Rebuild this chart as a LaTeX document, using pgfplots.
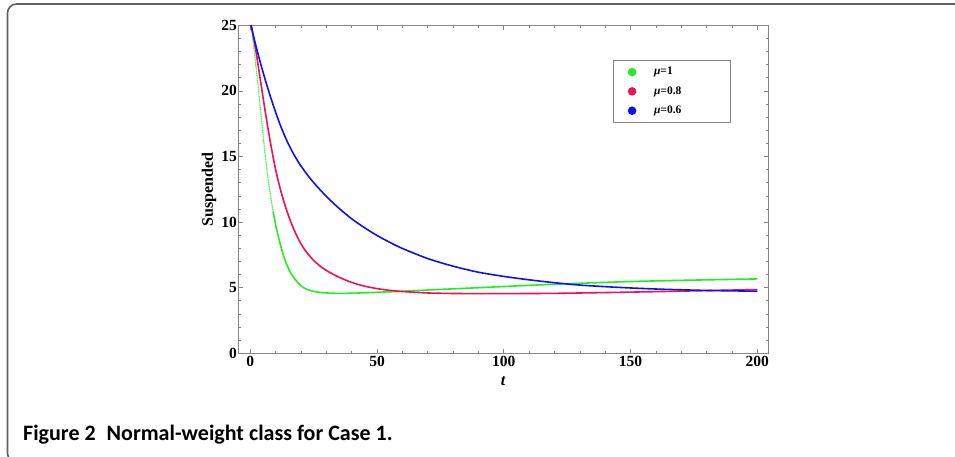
\documentclass[border=0pt]{standalone}
\usepackage{fontspec}
\setmainfont{Liberation Serif}
\newfontfamily\capfont{Carlito}
\usepackage{pgfplots}
\pgfplotsset{compat=1.18}
\definecolor{muA}{HTML}{22EE22}
\definecolor{muB}{HTML}{EE1155}
\definecolor{muC}{HTML}{1111EE}
\definecolor{framegray}{HTML}{858585}

\begin{document}
\begin{tikzpicture}[x=1pt,y=1pt]
\path[use as bounding box] (0,0) rectangle (955,456);
% rounded frame round the figure, cut at the right and bottom edge
\draw[black!62, line width=1.6pt, rounded corners=9pt] (962,452) -- (7.5,452) -- (7.5,-6) -- (30,-6);

\begin{axis}[
    at={(238.5pt,102.7pt)}, anchor=south west,
    scale only axis,
    width=529.5pt, height=328pt,
    xmin=-4.65, xmax=204.2,
    ymin=0, ymax=25,
    xtick={0,50,100,150,200},
    ytick={0,5,10,15,20,25},
    minor x tick num=4,
    minor y tick num=4,
    xtick pos=both, ytick pos=both,
    tick align=inside,
    major tick length=4.5pt,
    minor tick length=2.5pt,
    axis line style={framegray, line width=0.9pt},
    tick style={framegray, line width=0.7pt},
    ticklabel style={font=\fontsize{15.5}{17}\selectfont\bfseries},
    /pgf/number format/assume math mode=true,
    yticklabel style={inner xsep=1.5pt},
    xticklabel style={inner ysep=3pt},
    xlabel={\textbf{\textit{t}}},
    ylabel={\textbf{Suspended}},
    label style={font=\fontsize{16}{18}\selectfont},
    xlabel style={at={(axis description cs:0.5,-0.0845)}, anchor=center},
    ylabel style={at={(axis description cs:-0.0557,0.5)}, anchor=center},
    legend image code/.code={
        \path[draw=none, fill=none] (0pt,0pt) -- (39pt,0pt);
        \fill[#1, draw=none] (19pt,0pt) circle (4.3pt);},
    legend cell align=left,
    legend style={at={(axis description cs:0.7067,0.894)}, anchor=north west,
        draw=framegray, line width=0.8pt,
        inner xsep=0pt, inner ysep=4.4pt, row sep=4.8pt,
        font=\fontsize{11.5}{13}\selectfont,
        nodes={inner sep=2pt, text height=8pt, text depth=2.5pt}},
]

% mu = 1, steep start (drawn broken in the reference)
\addplot[forget plot, muA!80, line width=1.2pt, dash pattern=on 1.2pt off 0.6pt] coordinates {
(0,25.6) (1,24.0) (2,22.3) (3,20.6) (4,18.6) (5,16.7) (6,14.9) (7,13.3) (8,12.0) (9,10.8)
};
% mu = 1
\addplot[forget plot, muA, line width=1.6pt, smooth] coordinates {
(9,10.8) (10,9.8) (11,8.95) (12,8.2) (13,7.5) (14,6.95) (15,6.5) (16,6.1) (18,5.55)
(20,5.15) (22,4.9) (25,4.72) (28,4.63) (32,4.58) (36,4.57) (40,4.58) (45,4.61)
(50,4.65) (60,4.73) (75,4.87) (90,5.0) (110,5.18) (125,5.3) (150,5.47) (175,5.58) (200,5.67)
};
% mu = 0.8
\addplot[forget plot, muB, line width=1.6pt, smooth] coordinates {
(0,25.4) (2,23.3) (4,20.8) (6,18.3) (8,16.0) (10,14.0) (12,12.4) (14,11.1) (16,10.0)
(18,9.1) (20,8.35) (22,7.75) (25,7.08) (28,6.58) (31,6.2) (35,5.8) (40,5.4) (45,5.12)
(50,4.93) (55,4.8) (60,4.71) (70,4.6) (80,4.56) (90,4.55) (100,4.55) (120,4.57)
(140,4.63) (160,4.7) (180,4.78) (200,4.86)
};
% mu = 0.6
\addplot[forget plot, muC, line width=1.6pt, smooth] coordinates {
(0,25.2) (2,23.61) (4,22.14) (6,20.78) (8,19.53) (10,18.37) (12,17.31) (14,16.38)
(16,15.58) (18,14.88) (20,14.28) (23,13.48) (26,12.79) (30,11.96) (35,11.05) (40,10.25)
(45,9.58) (50,8.98) (55,8.46) (60,7.99) (70,7.22) (80,6.64) (90,6.18) (100,5.86)
(110,5.6) (120,5.38) (130,5.2) (140,5.08) (150,4.98) (160,4.9) (170,4.84) (180,4.79)
(190,4.76) (200,4.73)
};

\addlegendimage{muA}
\addlegendentry{\makebox[74pt][l]{\bfseries\itshape μ\upshape=1}}
\addlegendimage{muB}
\addlegendentry{\makebox[74pt][l]{\bfseries\itshape μ\upshape=0.8}}
\addlegendimage{muC}
\addlegendentry{\makebox[74pt][l]{\bfseries\itshape μ\upshape=0.6}}
\end{axis}

\node[anchor=base west, inner sep=0pt, font=\capfont\bfseries\fontsize{22}{26}\selectfont]
  at (23,16) {Figure 2\hspace{0.5em}Normal-weight class for Case 1.};
\end{tikzpicture}
\end{document}
